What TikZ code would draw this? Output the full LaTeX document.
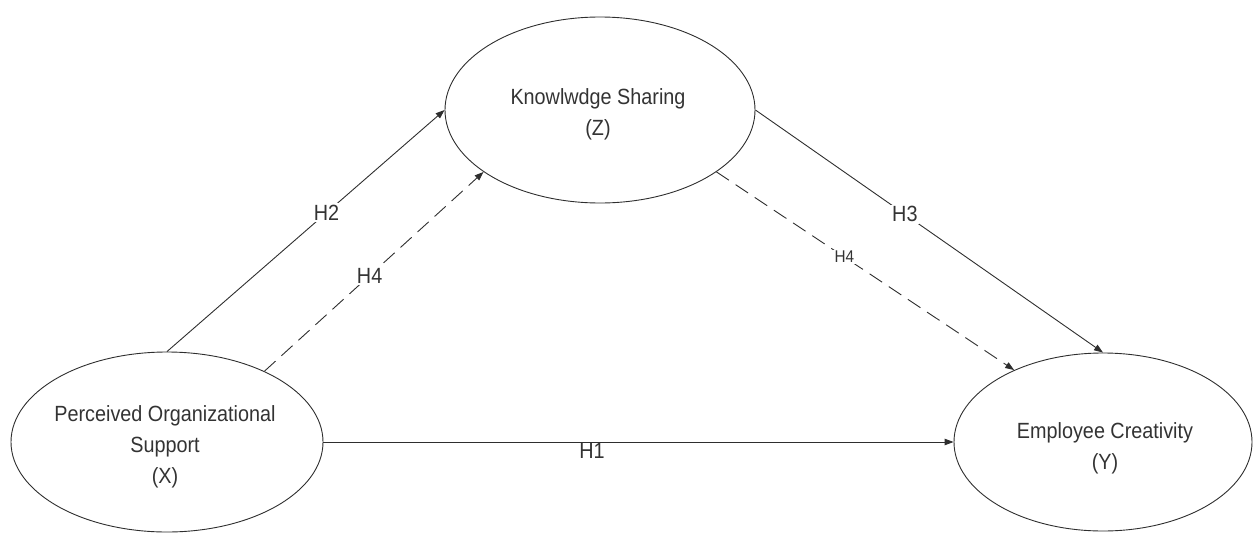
\documentclass[tikz,border=0pt]{standalone}
\usepackage{fontspec}
\setmainfont{Liberation Sans}[FakeStretch=0.9]
\usetikzlibrary{shapes.geometric,arrows.meta}
\definecolor{ink}{HTML}{2E2E2E}
\definecolor{txt}{HTML}{333333}
\tikzset{
  construct/.style={draw=ink, line width=0.9pt, ellipse, inner sep=0pt},
  ctext/.style={text=txt, align=center, font=\fontsize{22}{31}\selectfont, inner sep=0pt},
  path/.style={draw=ink, line width=0.9pt, -{Triangle[length=9pt,width=6.5pt]}},
  dashpath/.style={path, dash pattern=on 15pt off 8pt},
  hlabel/.style={text=txt, font=\fontsize{22}{24}\selectfont, fill=white, inner sep=1.5pt},
  hsmall/.style={text=txt, font=\fontsize{17}{18}\selectfont, fill=white, inner sep=1.5pt}
}
\begin{document}
\begin{tikzpicture}[x=1pt,y=-1pt]
\useasboundingbox (0,0) rectangle (1253,533);
\node[construct, minimum width=310pt, minimum height=186pt] (Z) at (600,110) {};
\node[construct, minimum width=312pt, minimum height=180pt] (X) at (167,442) {};
\node[construct, minimum width=298pt, minimum height=178pt] (Y) at (1103,442) {};
\node[ctext] (Zt) at (598,114) {Knowlwdge Sharing\\(Z)};
\node[ctext] (Xt) at (165,447) {Perceived Organizational\\Support\\(X)};
\node[ctext] (Yt) at (1105,448) {Employee Creativity\\(Y)};
% H1
\draw[path] (X.0) -- (Y.180);
\node[text=txt, font=\fontsize{22}{24}\selectfont, inner sep=0pt] (h1) at (592,451) {H1};
% H2
\draw[path] (X.90) -- node[hlabel, pos=0.575] (h2) {H2} (Z.180);
% H4 left
\draw[dashpath] (X.36.3) -- node[hlabel, pos=0.48] (h4a) {H4} (Z.-152.7);
% H3
\draw[path] (Z.0) -- node[hlabel, pos=0.43] (h3) {H3} (Y.90);
% H4 right
\draw[dashpath] (Z.-28.7) -- node[hsmall, pos=0.43] (h4b) {H4} (Y.141);
\end{tikzpicture}
\end{document}
